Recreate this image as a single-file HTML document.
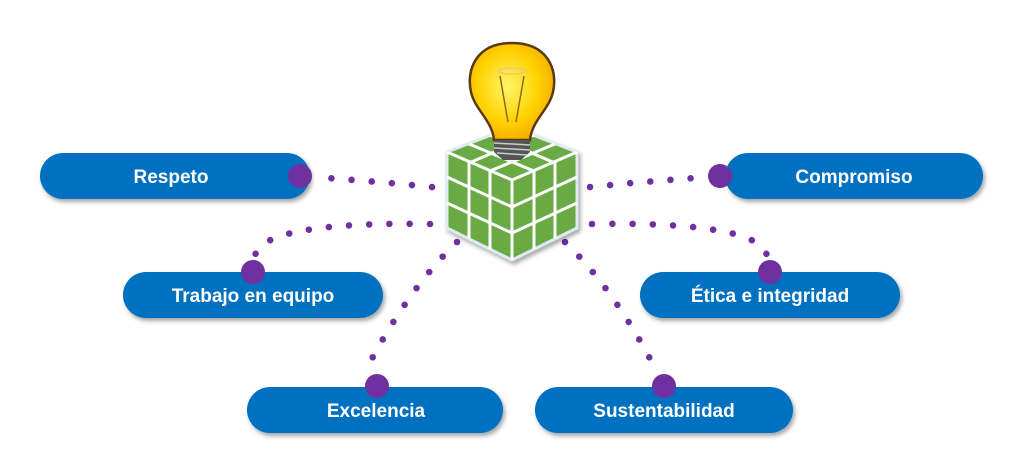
<!DOCTYPE html>
<html><head><meta charset="utf-8"><style>
html,body{margin:0;padding:0;background:#fff;width:1024px;height:470px;overflow:hidden}
</style></head><body>
<svg width="1024" height="470" viewBox="0 0 1024 470" xmlns="http://www.w3.org/2000/svg">
<defs>
<filter id="sh" x="-10%" y="-20%" width="120%" height="160%"><feDropShadow dx="2" dy="3" stdDeviation="2" flood-color="#000" flood-opacity="0.35"/></filter>
<radialGradient id="bulb" cx="0.45" cy="0.45" r="0.6"><stop offset="0" stop-color="#fff56a"/><stop offset="0.6" stop-color="#ffd200"/><stop offset="1" stop-color="#f2a900"/></radialGradient>
<g id="pd"><path d="M590 187 Q640 182 695 178" fill="none" stroke="#7030A0" stroke-width="6.6" stroke-linecap="round" stroke-dasharray="0 20.2"/>
<path d="M592 224 Q700 222 745 237 Q762 244 767 255" fill="none" stroke="#7030A0" stroke-width="6.6" stroke-linecap="round" stroke-dasharray="0 20.2"/>
<path d="M565 242 Q615 290 657 372" fill="none" stroke="#7030A0" stroke-width="6.6" stroke-linecap="round" stroke-dasharray="0 20.5"/></g>
</defs>
<use href="#pd"/>
<use href="#pd" transform="translate(1022,0) scale(-1,1)"/>
<g font-family="Liberation Sans, sans-serif" font-weight="bold" font-size="19" fill="#fff" text-anchor="middle">
<rect x="40" y="153" width="270" height="46" rx="23" fill="#0070C0" filter="url(#sh)"/><text x="171" y="183">Respeto</text>
<rect x="123" y="272" width="260" height="46" rx="23" fill="#0070C0" filter="url(#sh)"/><text x="253" y="302">Trabajo en equipo</text>
<rect x="247" y="387" width="256" height="46" rx="23" fill="#0070C0" filter="url(#sh)"/><text x="376" y="417">Excelencia</text>
<rect x="535" y="387" width="258" height="46" rx="23" fill="#0070C0" filter="url(#sh)"/><text x="664" y="417">Sustentabilidad</text>
<rect x="640" y="272" width="260" height="46" rx="23" fill="#0070C0" filter="url(#sh)"/><text x="770" y="302">Ética e integridad</text>
<rect x="725" y="153" width="258" height="46" rx="23" fill="#0070C0" filter="url(#sh)"/><text x="854" y="183">Compromiso</text>
</g>
<g fill="#7030A0">
<circle cx="300" cy="176" r="12"/><circle cx="720" cy="176" r="12"/>
<circle cx="253" cy="272" r="12"/><circle cx="770" cy="272" r="12"/>
<circle cx="377" cy="386" r="12"/><circle cx="664" cy="386" r="12"/>
</g>
<!-- cube -->
<g filter="url(#sh)">
<polygon points="512,127 577,152 577,228 512,260 447,228 447,152" fill="#6aaa44" stroke="#dfe9f2" stroke-width="3"/>
</g>
<g stroke="#fff" stroke-width="3" fill="none">
<path d="M447,152 L512,180 L577,152 M512,180 L512,260"/>
<path d="M469,144 L534,171 M490,135 L555,163 M534,135 L469,163 M555,144 L490,171"/>
<path d="M469,161 L469,238 M490,171 L490,249 M534,171 L534,249 M555,161 L555,238"/>
<path d="M447,177 L512,207 L577,177 M447,203 L512,233 L577,203"/>
</g>
<!-- bulb -->
<path d="M512,43 C476,43 466,70 471,92 C475,110 492,120 494,140 L530,140 C532,120 549,110 553,92 C558,70 548,43 512,43 Z" fill="url(#bulb)" stroke="#5a3a10" stroke-width="2.5"/>
<ellipse cx="512" cy="71" rx="14" ry="3" fill="none" stroke="#e9c97a" stroke-width="1.5"/>
<path d="M500,76 L508,122 M524,76 L516,122" stroke="#8a6a20" stroke-width="1.5" fill="none"/>
<path d="M494,140 L530,140 L530,152 L521,160 L503,160 L494,152 Z" fill="#555"/>
<path d="M494,143 L530,145 M494,148 L530,150 M497,153 L527,155" stroke="#ccc" stroke-width="1.5"/>
</svg>
</body></html>
